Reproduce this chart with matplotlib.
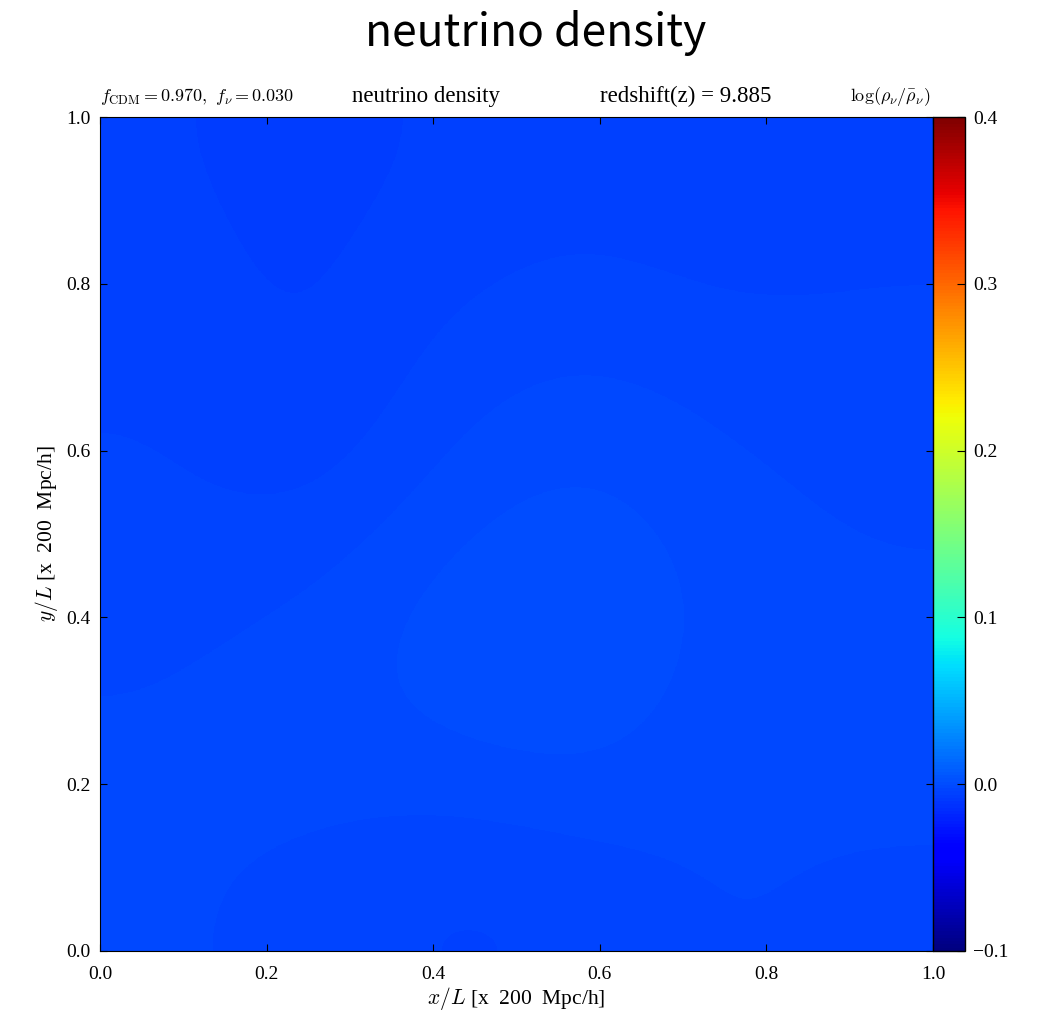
import numpy as np
import matplotlib
matplotlib.use('Agg')
import matplotlib.pyplot as plt

plt.rcParams['font.family'] = 'Liberation Serif'
plt.rcParams['mathtext.fontset'] = 'cm'

# log(rho_nu / mean rho_nu) on a coarse grid, rows top (y=1) -> bottom (y=0)
density = [
    [-0.006, -0.007, -0.006, -0.005, -0.006, -0.005],
    [-0.005, -0.007, -0.004, -0.003, -0.004, -0.004],
    [-0.004, -0.006, -0.002,  0.000, -0.002, -0.003],
    [-0.003, -0.002,  0.001,  0.002, -0.001, -0.002],
    [-0.002, -0.001,  0.000,  0.001, -0.002, -0.001],
    [-0.002, -0.003, -0.005, -0.004, -0.002, -0.003],
]
vmin, vmax = -0.1, 0.4
axis_ticks = [0.0, 0.2, 0.4, 0.6, 0.8, 1.0]
cbar_ticks = [-0.1, 0.0, 0.1, 0.2, 0.3, 0.4]

fig = plt.figure(figsize=(10.38, 10.15), dpi=100)
ax = fig.add_axes([0.0963, 0.0631, 0.8025, 0.8216])
cax = fig.add_axes([0.8988, 0.0631, 0.0310, 0.8216])

im = ax.imshow(np.array(density), extent=[0, 1, 0, 1], origin='upper',
               cmap='jet', vmin=vmin, vmax=vmax, interpolation='bicubic',
               aspect='auto')
ax.set_xlim(0, 1)
ax.set_ylim(0, 1)
ax.set_xticks(axis_ticks)
ax.set_yticks(axis_ticks)
ax.tick_params(direction='in', top=True, right=True, length=5, labelsize=14)
ax.tick_params(axis='x', pad=11)
ax.tick_params(axis='y', pad=7)
ax.set_xlabel('$x/L$ [x  200  Mpc/h]', fontsize=15.5, labelpad=1)
ax.set_ylabel('$y/L$ [x  200  Mpc/h]', fontsize=15.5, labelpad=4)

cb = fig.colorbar(im, cax=cax)
cb.set_ticks(cbar_ticks)
cb.ax.tick_params(direction='in', length=6, labelsize=14, pad=6)
cb.outline.set_linewidth(1)

fig.text(0.0963, 0.905, r'$f_{\rm CDM} = 0.970,\ f_{\nu} = 0.030$', fontsize=13,
         ha='left', va='center')
fig.text(0.41, 0.905, 'neutrino density', fontsize=16.5, ha='center', va='center')
fig.text(0.661, 0.905, 'redshift(z) = 9.885', fontsize=16.5, ha='center', va='center')
fig.text(0.858, 0.905, r'$\log(\rho_{\nu}/\bar{\rho}_{\nu})$', fontsize=13,
         ha='center', va='center')

fig.suptitle('neutrino density', fontsize=32, x=0.516, y=0.9547, va='baseline',
             family=['Noto Sans CJK SC', 'DejaVu Sans'])

fig.savefig('out.png', dpi=100)
